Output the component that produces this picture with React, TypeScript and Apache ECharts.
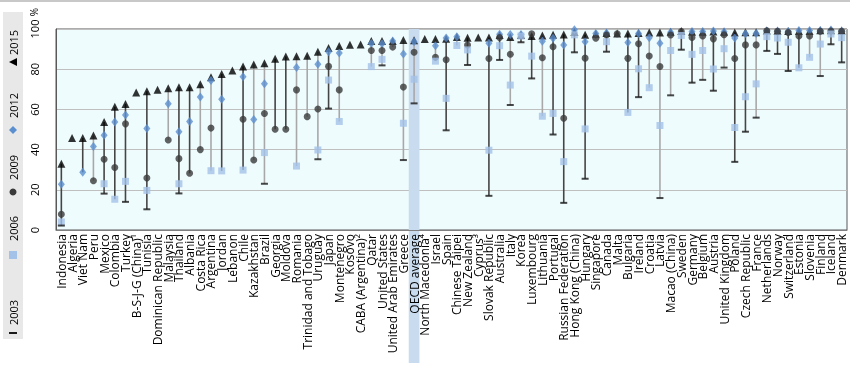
import React, { useEffect, useRef } from "react";
import * as echarts from "echarts";

const categories = [
  "Indonesia", "Algeria", "Viet Nam", "Peru", "Mexico", "Colombia", "Turkey", "B-S-J-G (China)¹",
  "Tunisia", "Dominican Republic", "Malaysia", "Thailand", "Albania", "Costa Rica", "Argentina",
  "Jordan", "Lebanon", "Chile", "Kazakhstan", "Brazil", "Georgia", "Moldova", "Romania",
  "Trinidad and Tobago", "Uruguay", "Japan", "Montenegro", "Kosovo", "CABA (Argentina)²", "Qatar",
  "United States", "United Arab Emirates", "Greece", "OECD average", "North Macedonia⁴", "Israel",
  "Spain", "Chinese Taipei", "New Zealand", "Cyprus³", "Slovak Republic", "Australia", "Italy",
  "Korea", "Luxembourg", "Lithuania", "Portugal", "Russian Federation", "Hong Kong (China)",
  "Hungary", "Singapore", "Canada", "Malta", "Bulgaria", "Ireland", "Croatia", "Latvia",
  "Macao (China)", "Sweden", "Germany", "Belgium", "Austria", "United Kingdom", "Poland",
  "Czech Republic", "France", "Netherlands", "Norway", "Switzerland", "Estonia", "Slovenia",
  "Finland", "Iceland", "Denmark",
];

const N = null;
const v2015 = [
  33, 45.8, 45.8, 47, 53.7, 61.3, 62.7, 68.4, 69, 69.8, 70.5, 71, 71, 72.5, 76,
  77.6, 79.3, 81.3, 82.4, 83, 85.2, 86.3, 86.4, 86.7, 88.7, 90.6, 91.6, 92.2, 92.3, 94,
  94, 94, 94.5, 94.4, 95, 95, 95.2, 96, 95.7, 95.8, 95.8, 97, 96, 97, 96.5,
  96.8, 97.1, 97.3, 98.5, 97.2, 97.6, 98, 97.7, 97.7, 98, 98.2, 98.2, 98.6, 99,
  98.6, 98.6, 98.8, 98.6, 98.3, 98.4, 98.4, 99.2, 99.1, 99, 99, 99, 99.4, 99.4, 99.3,
];
const v2012 = [
  22.7, N, 28.7, 41.6, 47.1, 53.7, 57.2, N, 50.5, N, 62.8, 48.9, 54, 66.2, 74.4,
  65.1, N, 76.2, 55, 72.7, N, N, 80.9, N, 82.5, 88.7, 88, N, N, 92.8,
  92.6, 94, 87.6, 93.6, N, 91.7, 95.5, 96.2, N, N, 92.9, 97.4, 97.3, 97.3, N,
  93.9, 95.4, 92.1, 99.6, 93.6, 97.8, 98, N, 93.3, 97.8, 95.7, 92.9, 98.4, N,
  98.7, 98.7, 99, 98.6, 95.5, 97.6, 97.8, 99, 99, 98.8, 99.2, 99.2, 99.2, 99.5, 99,
];
const v2009 = [
  7.8, N, N, 24.5, 35.2, 31.1, 52.8, N, 25.9, N, 44.8, 35.5, 28.2, 40, 50.7,
  N, N, 55.1, 34.8, 58, 50.1, 50.1, 69.7, 56.4, 60.2, 81.4, 69.7, N, N, 89.3,
  89.3, 91, 71.1, 88.4, N, 85.9, 84.7, N, 92, N, 85.3, 95.8, 87.4, N, 97.6,
  85.7, 91.2, 55.6, N, 85.5, 95.4, 97, 97.6, 85.4, 92.7, 86.6, 81.3, 97, 98.8,
  95.8, 96.5, 95.1, 97.1, 85.3, 92.1, 92.1, 99.1, 98.9, 98.3, 96.5, 96.5, 98.9, 99, 98.9,
];
const v2006 = [
  4, N, N, N, 23, 15.3, 24.2, N, 19.7, N, N, 23, N, N, 29.5,
  29.4, N, 29.8, N, 38.5, N, N, 31.8, N, 39.8, 74.6, 54, N, N, 81.3,
  84.9, N, 53.1, 75, N, 84, 65.5, 91.8, 89.6, N, 39.7, 91.7, 72.1, 96.5, 86.5,
  56.6, 58, 34, 97.1, 50.3, N, 93.7, N, 58.5, 80.2, 70.8, 52, 89.3, 96.8,
  87.4, 89.3, 80.1, 90.2, 51, 66.3, 72.7, 96.2, 95.5, 93.4, 80.7, 85.9, 92.5, 97.5, 95.7,
];
const v2003 = [
  2.2, N, N, N, 18.1, N, 14, N, 10.3, N, N, 18.2, N, N, N,
  N, N, N, N, 23, N, N, N, N, 35.2, 60.4, N, N, N, N,
  81.9, N, 34.8, 63, N, N, 49.6, N, 82.1, N, 17, 84.6, 62.2, 93.4, 75.4,
  N, 47.5, 13.5, 88.4, 25.5, N, 88.7, N, N, 66.1, N, 15.9, 67, 89.7,
  73.3, 74.7, 69.3, 80.8, 33.9, 48.9, 55.9, 89.1, 87.6, 79.1, N, N, 76.6, 92.4, 83.4,
];
const lineDark = [
  1, 0, 1, 0, 1, 1, 1, 0, 1, 0, 0, 1, 1, 0, 0,
  1, 0, 1, 0, 0, 1, 1, 0, 0, 0, 1, 0, 0, 0, 0,
  0, 0, 0, 0, 0, 0, 1, 0, 1, 0, 1, 1, 0, 1, 1,
  0, 1, 1, 1, 1, 1, 1, 1, 1, 1, 0, 0, 0, 1,
  1, 0, 1, 0, 1, 1, 0, 1, 1, 1, 1, 0, 0, 1, 1,
];
const yTicks = [0, 20, 40, 60, 80, 100];
const legendYears = ["2003", "2006", "2009", "2012", "2015"];
const highlight = "OECD average";

const FONT = "'Open Sans', 'Noto Sans', sans-serif";
const C_TRI = "#000000";
const C_DIA = "#5b8fcf";
const C_CIR = "#3a3a3a";
const C_SQ = "#a4c2e8";
const C_DASH = "#1a1a1a";
const C_BAND = "#c9dbef";

export default function App() {
  const ref = useRef<HTMLDivElement>(null);
  useEffect(() => {
    if (!ref.current) return;
    const chart = echarts.init(ref.current, null, { renderer: "svg" });
    const toD = (a: (number | null)[]) => a.map((v) => (v == null ? "-" : v));
    const rangeData: any[] = [];
    categories.forEach((c, i) => {
      const vals = [v2015[i], v2012[i], v2009[i], v2006[i], v2003[i]].filter((v) => v != null) as number[];
      if (vals.length > 1) rangeData.push([i, Math.min(...vals), Math.max(...vals), lineDark[i]]);
    });
    const bandData = categories.map((c) => (c === highlight ? 100 : "-"));

    const legendY = 339;
    const legendX = 13;
    const items = [
      { sym: "dash", pos: 6, text: legendYears[0], tpos: 14 },
      { sym: "square", pos: 84, text: legendYears[1], tpos: 98 },
      { sym: "circle", pos: 147, text: legendYears[2], tpos: 159 },
      { sym: "diamond", pos: 209, text: legendYears[3], tpos: 221 },
      { sym: "triangle", pos: 277, text: legendYears[4], tpos: 284 },
    ];
    const legendChildren: any[] = [];
    items.forEach((it) => {
      if (it.sym === "dash") legendChildren.push({ type: "rect", shape: { x: it.pos - 1, y: -4, width: 2, height: 8 }, style: { fill: C_DASH } });
      if (it.sym === "square") legendChildren.push({ type: "rect", shape: { x: it.pos - 4, y: -4, width: 8, height: 8 }, style: { fill: C_SQ } });
      if (it.sym === "circle") legendChildren.push({ type: "circle", shape: { cx: it.pos, cy: 0, r: 3.5 }, style: { fill: C_CIR } });
      if (it.sym === "diamond") legendChildren.push({ type: "polygon", shape: { points: [[it.pos, -4], [it.pos + 4, 0], [it.pos, 4], [it.pos - 4, 0]] }, style: { fill: C_DIA } });
      if (it.sym === "triangle") legendChildren.push({ type: "polygon", shape: { points: [[it.pos - 4, 4], [it.pos + 4, 4], [it.pos, -4]] }, style: { fill: C_TRI } });
      legendChildren.push({ type: "text", x: it.tpos, y: 0, style: { text: it.text, font: `11px ${FONT}`, fill: "#000", verticalAlign: "middle", align: "left" } });
    });

    const baseGraphic: any[] = [
      { type: "rect", shape: { x: 0, y: 0, width: 850, height: 2 }, style: { fill: "#c8c8c8" } },
      { type: "rect", shape: { x: 3, y: 12, width: 20, height: 327 }, style: { fill: "#e8e8e8" } },
      { type: "group", x: legendX, y: legendY, rotation: Math.PI / 2, children: legendChildren },
      { type: "text", x: 34, y: 12, rotation: Math.PI / 2, style: { text: "%", font: `10px ${FONT}`, fill: "#000", align: "center", verticalAlign: "middle" } },
    ];

    const option: any = {
      animation: false,
      grid: {
        left: 56, right: 3, top: 29, bottom: 141, show: true,
        backgroundColor: "#effcfd", borderColor: "#595959", borderWidth: 1,
        outerBoundsMode: "none", containLabel: false,
      },
      xAxis: {
        type: "category", data: categories, boundaryGap: true,
        axisLine: { show: true, lineStyle: { color: "#7f7f7f" } },
        axisTick: { show: false },
        axisLabel: { interval: 0, rotate: 90, margin: 4, fontSize: 12, fontFamily: FONT, color: "#000" },
        splitLine: { show: false },
      },
      yAxis: {
        type: "value", min: yTicks[0], max: yTicks[yTicks.length - 1], interval: 20,
        axisLine: { show: true, lineStyle: { color: "#595959" } },
        axisTick: { show: false },
        axisLabel: { rotate: 90, margin: 16, fontSize: 11, fontFamily: FONT, color: "#000" },
        splitLine: { show: true, lineStyle: { color: "#bfbfbf", width: 1 } },
      },
      graphic: baseGraphic,
      series: [
        { type: "bar", data: bandData, barWidth: "100%", itemStyle: { color: C_BAND }, silent: true, z: 1 },
        {
          type: "custom", data: rangeData, encode: { x: 0, y: [1, 2] }, z: 2,
          renderItem: (params: any, api: any) => {
            const i = api.value(0);
            const p1 = api.coord([i, api.value(1)]);
            const p2 = api.coord([i, api.value(2)]);
            return {
              type: "line",
              shape: { x1: p1[0], y1: p1[1], x2: p2[0], y2: p2[1] },
              style: { stroke: api.value(3) ? "#454545" : "#a8a8a8", lineWidth: 1.6 },
            };
          },
        },
        { type: "scatter", name: "2015", data: toD(v2015), symbol: "triangle", symbolSize: 8, itemStyle: { color: C_TRI }, z: 3 },
        { type: "scatter", name: "2012", data: toD(v2012), symbol: "diamond", symbolSize: [7, 9], itemStyle: { color: C_DIA }, z: 3 },
        { type: "scatter", name: "2009", data: toD(v2009), symbol: "circle", symbolSize: 7, itemStyle: { color: C_CIR }, z: 3 },
        { type: "scatter", name: "2006", data: toD(v2006), symbol: "rect", symbolSize: 7, itemStyle: { color: C_SQ }, z: 3 },
        { type: "scatter", name: "2003", data: toD(v2003), symbol: "rect", symbolSize: [7, 2], itemStyle: { color: C_DASH }, z: 3 },
      ],
    };
    chart.setOption(option);

    const idx = categories.indexOf(highlight);
    const cx = chart.convertToPixel({ xAxisIndex: 0 }, idx) as number;
    const cx2 = chart.convertToPixel({ xAxisIndex: 0 }, idx + 1) as number;
    const w = cx2 - cx;
    const yBottom = chart.convertToPixel({ yAxisIndex: 0 }, 0) as number;
    chart.setOption({
      graphic: [
        ...baseGraphic,
        { type: "rect", z: -1, shape: { x: cx - w / 2, y: yBottom, width: w, height: 363 - yBottom }, style: { fill: C_BAND } },
      ],
    });
    return () => chart.dispose();
  }, []);
  return <div ref={ref} style={{ position: "fixed", left: 0, top: 0, width: 850, height: 371 }} />;
}
